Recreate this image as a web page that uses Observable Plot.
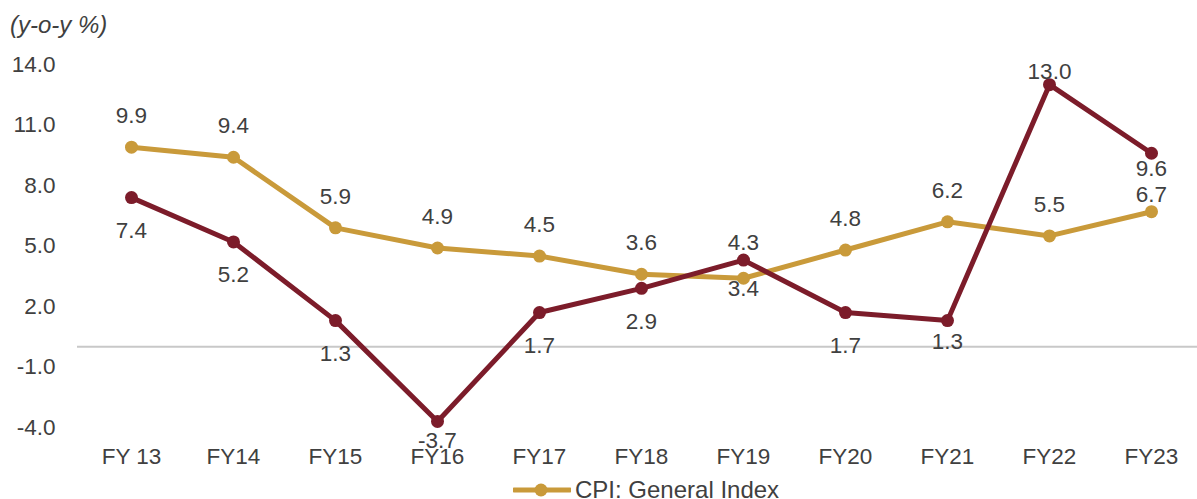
<!DOCTYPE html>
<html>
<head>
<meta charset="utf-8">
<script src="https://cdn.jsdelivr.net/npm/d3@7"></script>
<script src="https://cdn.jsdelivr.net/npm/@observablehq/plot@0.6"></script>
<style>
  html, body { margin: 0; padding: 0; background: #fff; }
  #wrap { position: relative; width: 1197px; height: 499px; overflow: hidden; font-family: "Liberation Sans", Arial, sans-serif; color: #404040; }
  #title { position: absolute; left: 10px; top: 10px; font-size: 24px; font-style: italic; line-height: 30px; }
  #chart { position: absolute; left: 0; top: 44px; }
  #legend { position: absolute; left: 513px; top: 475px; height: 30px; display: flex; align-items: center; font-size: 24px; }
  #legend svg { margin-right: 4px; }
</style>
</head>
<body>
<div id="wrap">
  <div id="title">(y-o-y %)</div>
  <div id="chart"></div>
  <div id="legend"></div>
</div>
<script>
const categories = ["FY 13", "FY14", "FY15", "FY16", "FY17", "FY18", "FY19", "FY20", "FY21", "FY22", "FY23"];
const cpiValues = [9.9, 9.4, 5.9, 4.9, 4.5, 3.6, 3.4, 4.8, 6.2, 5.5, 6.7];
const otherValues = [7.4, 5.2, 1.3, -3.7, 1.7, 2.9, 4.3, 1.7, 1.3, 13.0, 9.6];
const yTicks = [-4, -1, 2, 5, 8, 11, 14];
const cpiName = "CPI: General Index";

// label placement offsets (px)
const cpiLabelDy = [-31, -31, -31, -31, -31, -31, 11, -31, -31, -31, -17];
const otherLabelDy = [33, 33, 33, 19, 33, 33, -17, 33, 21, -13, 16];

const gold = "#C99A3A";
const maroon = "#7C1C2A";
const textColor = "#404040";
const fs = 22.5;

const cpi = categories.map((c, i) => ({cat: c, v: cpiValues[i], dy: cpiLabelDy[i]}));
const other = categories.map((c, i) => ({cat: c, v: otherValues[i], dy: otherLabelDy[i]}));

const labels = (data) => data.map(d =>
  Plot.text([d], {x: "cat", y: "v", text: d => d.v.toFixed(1), dy: d.dy, fill: textColor, fontSize: fs})
);

const chart = Plot.plot({
  width: 1197,
  height: 426,
  marginLeft: 77,
  marginRight: 0,
  marginTop: 20,
  marginBottom: 43,
  style: {fontFamily: "Liberation Sans, Arial, sans-serif", fontSize: fs + "px", color: textColor, background: "white"},
  x: {type: "point", domain: categories, range: [127, 1155], padding: 0},
  y: {domain: [-4, 14], range: [383, 20]},
  marks: [
    Plot.axisY({ticks: yTicks, tickFormat: d => d.toFixed(1), tickSize: 0, tickPadding: 22, label: null, fontSize: fs}),
    Plot.axisX({tickSize: 0, tickPadding: 21, label: null, fontSize: fs}),
    Plot.ruleY([0], {stroke: "#c8c8c8", strokeWidth: 2}),
    Plot.line(cpi, {x: "cat", y: "v", stroke: gold, strokeWidth: 5}),
    Plot.dot(cpi, {x: "cat", y: "v", fill: gold, r: 6.5}),
    Plot.line(other, {x: "cat", y: "v", stroke: maroon, strokeWidth: 5}),
    Plot.dot(other, {x: "cat", y: "v", fill: maroon, r: 6.5}),
    ...labels(cpi),
    ...labels(other)
  ]
});
document.getElementById("chart").appendChild(chart);

const legend = document.getElementById("legend");
legend.innerHTML = `<svg width="58" height="16"><line x1="1" y1="8" x2="57" y2="8" stroke="${gold}" stroke-width="5" stroke-linecap="round"/><circle cx="28" cy="8" r="6.5" fill="${gold}"/></svg><span>${cpiName}</span>`;
</script>
</body>
</html>
